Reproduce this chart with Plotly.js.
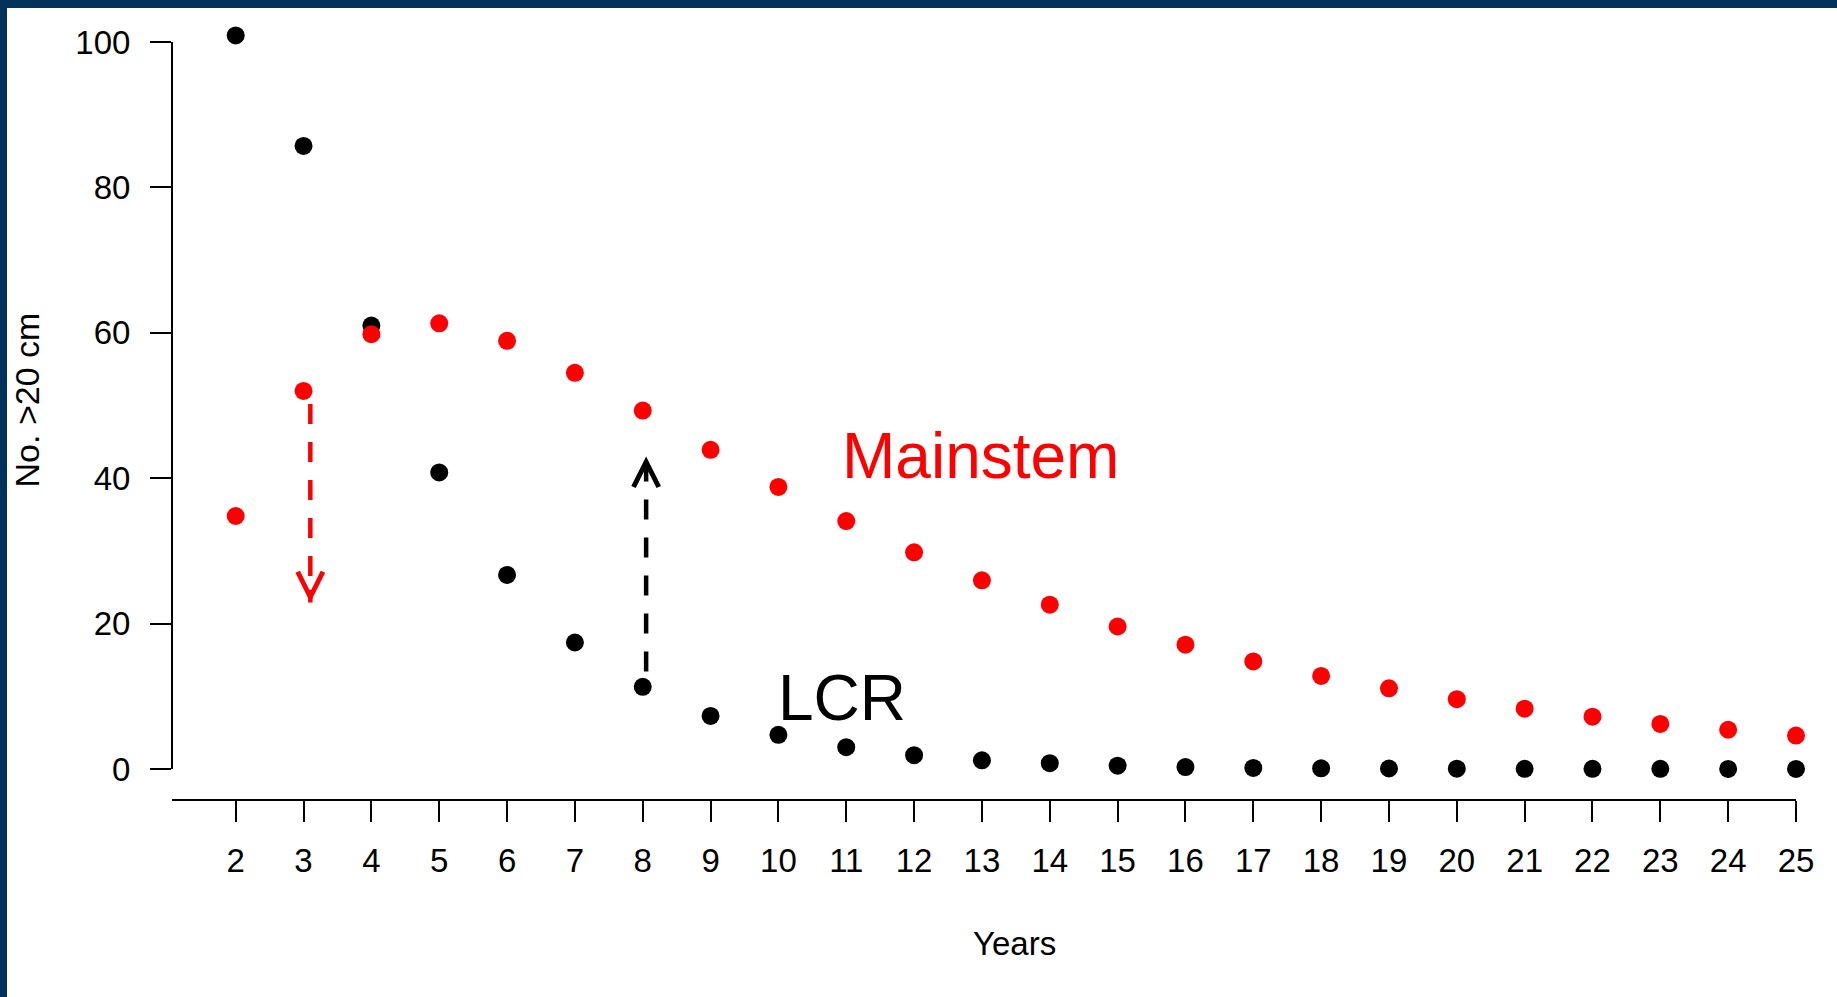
<!DOCTYPE html>
<html>
<head>
<meta charset="utf-8">
<script src="https://cdn.plot.ly/plotly-3.0.1.min.js"></script>
<style>
  html, body { margin: 0; padding: 0; background: #ffffff; }
  #wrap { width: 1830px; height: 989px; border-top: 8px solid #01325a; border-left: 7px solid #01325a; background: #ffffff; }
  #chart { width: 1830px; height: 989px; }
</style>
</head>
<body>
<div id="wrap"><div id="chart"></div></div>
<script>
// ---- data ----
const years = [2,3,4,5,6,7,8,9,10,11,12,13,14,15,16,17,18,19,20,21,22,23,24,25];
const lcrValues = [100.9, 85.7, 61.0, 40.8, 26.7, 17.4, 11.3, 7.3, 4.7, 3.0, 1.9, 1.2, 0.8, 0.45, 0.27, 0.14, 0.1, 0.07, 0.05, 0.03, 0.02, 0.02, 0.01, 0.01];
const mainstemValues = [34.8, 52.0, 59.8, 61.3, 58.9, 54.5, 49.3, 43.9, 38.8, 34.1, 29.8, 25.95, 22.6, 19.6, 17.1, 14.8, 12.8, 11.1, 9.6, 8.3, 7.2, 6.2, 5.4, 4.6];
const yTicks = [0, 20, 40, 60, 80, 100];

// labels placed in data space
const labelText = ['Mainstem', 'LCR'];
const labelX = [10.91, 9.97];
const labelY = [43, 9.7];

// dashed arrows (data space): tail -> tip
const arrowX = [3.1, 8.05];
const arrowTail = [50.2, 13.4];
const arrowTip = [22.9, 43.0];

// ---- styles ----
const RED = '#ff0000';
const BLACK = '#000000';
const FONT = 'Liberation Sans, Arial, Helvetica, sans-serif';
const labelColors = [RED, BLACK];
const arrowColors = [RED, BLACK];

const traces = [
  {
    x: years, y: lcrValues, type: 'scatter', mode: 'markers', name: 'LCR',
    marker: { color: BLACK, size: 18 }, cliponaxis: false, showlegend: false
  },
  {
    x: years, y: mainstemValues, type: 'scatter', mode: 'markers', name: 'Mainstem',
    marker: { color: RED, size: 18 }, cliponaxis: false, showlegend: false
  }
];

const shapes = arrowX.map((ax, i) => ({
  type: 'line', xref: 'x', yref: 'y',
  x0: ax, x1: ax, y0: arrowTail[i], y1: arrowTip[i],
  line: { color: arrowColors[i], width: 4.5, dash: '20px,18px' }
}));
// y axis line spanning only the labelled tick range (as in the original)
shapes.push({
  type: 'line', xref: 'paper', yref: 'y', x0: 0, x1: 0,
  y0: yTicks[0], y1: yTicks[yTicks.length - 1],
  line: { color: BLACK, width: 2 }
});

const annotations = [];
labelText.forEach((t, i) => annotations.push({
  text: t, x: labelX[i], y: labelY[i], xref: 'x', yref: 'y',
  xanchor: 'left', yanchor: 'middle', showarrow: false,
  font: { family: FONT, size: 64, color: labelColors[i] }
}));
arrowX.forEach((ax, i) => annotations.push({
  text: '', x: ax, y: arrowTip[i], xref: 'x', yref: 'y',
  showarrow: true, arrowhead: 5, arrowsize: 1.1, arrowwidth: 4.5,
  arrowcolor: arrowColors[i], ax: 0, ay: (arrowTail[i] > arrowTip[i] ? -14 : 14), standoff: 0
}));
// axis titles
annotations.push({
  text: 'Years', xref: 'paper', yref: 'paper', x: 0.519, y: -0.187,
  xanchor: 'center', yanchor: 'middle', showarrow: false,
  font: { family: FONT, size: 33, color: BLACK }
});
annotations.push({
  text: 'No. >20 cm', xref: 'paper', yref: 'paper', x: -0.089, y: 0.5175,
  xanchor: 'center', yanchor: 'middle', textangle: -90, showarrow: false,
  font: { family: FONT, size: 34, color: BLACK }
});

const layout = {
  width: 1830, height: 989,
  margin: { l: 165, r: 41, t: 20, b: 198, pad: 0 },
  paper_bgcolor: '#ffffff', plot_bgcolor: '#ffffff',
  font: { family: FONT, color: BLACK, size: 32 },
  showlegend: false,
  xaxis: {
    range: [1.061, 25], tickmode: 'array', tickvals: years, ticktext: years.map(String),
    ticks: 'outside', ticklen: 21, tickwidth: 2, tickcolor: BLACK,
    showline: true, linewidth: 2, linecolor: BLACK,
    showgrid: false, zeroline: false,
    tickfont: { family: FONT, size: 33, color: BLACK }, ticklabelstandoff: 10
  },
  yaxis: {
    range: [-4.1265, 101.926], tickmode: 'array', tickvals: yTicks,
    ticks: 'outside', ticklen: 21, tickwidth: 2, tickcolor: BLACK,
    showline: false, showgrid: false, zeroline: false,
    tickfont: { family: FONT, size: 33, color: BLACK }, ticklabelstandoff: 13
  },
  shapes: shapes,
  annotations: annotations
};

Plotly.newPlot('chart', traces, layout, { displayModeBar: false, staticPlot: true });
</script>
</body>
</html>
